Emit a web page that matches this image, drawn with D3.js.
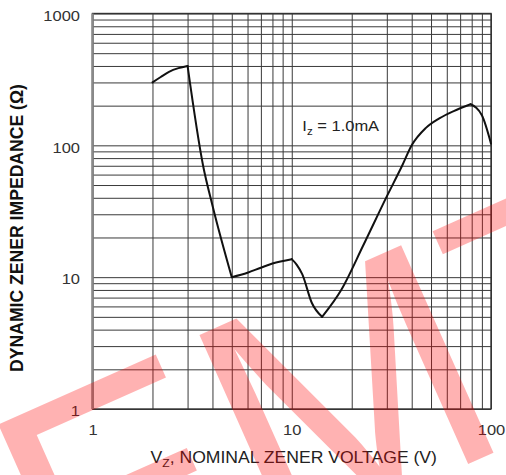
<!DOCTYPE html>
<html>
<head>
<meta charset="utf-8">
<script src="https://cdn.jsdelivr.net/npm/d3@7"></script>
<style>
  body { margin: 0; background: #fff; }
  svg { display: block; }
  text { font-family: "Liberation Sans", Arial, Helvetica, sans-serif; }
</style>
</head>
<body>
<svg id="chart" width="506" height="475"></svg>
<script>
// zener voltage (V) and dynamic impedance (ohm)
var voltage   = [2, 2.2, 2.42, 2.7, 3, 3.59, 4, 5, 6, 7, 8, 10, 10.6, 11.3, 12.6, 14.2, 17.8, 22.8, 30, 35.8, 40, 47, 55, 65, 79, 90, 100];
var impedance = [300, 330, 361, 385, 400, 70, 35, 10, 10.8, 11.8, 12.7, 13.7, 12.4, 10.5, 6.4, 5, 8.1, 17.3, 41, 70, 100, 135, 160, 182, 205, 169, 103];
// indexes where the curve has a sharp corner
var corners = [0, 4, 7, 11, 15, 24, 26];

var xLabels = [1, 10, 100];
var yLabels = [1, 10, 100, 1000];
var gridX = [1, 2, 3, 4, 5, 6, 7, 8, 9, 10, 20, 30, 40, 50, 60, 70, 80, 90, 100];
var gridY = [1, 2, 3, 4, 5, 6, 7, 8, 9, 10, 20, 30, 40, 50, 60, 70, 80, 90,
             100, 200, 300, 400, 500, 600, 700, 800, 900, 1000];

var stretch = "scale(1.1,1)";

var svg = d3.select("#chart"),
  margin = { top: 13.5, right: 15, bottom: 66, left: 92.5 },
  width = +svg.attr("width") - margin.left - margin.right,
  height = +svg.attr("height") - margin.top - margin.bottom,
  g = svg.append("g").attr("transform", "translate(" + margin.left + "," + margin.top + ")");

var x = d3.scaleLog().domain([1, 100]).range([0, width]);
var y = d3.scaleLog().domain([1, 1000]).range([height, 0]);

// grid
g.append("g")
  .attr("class", "grid")
  .attr("transform", "translate(0," + height + ")")
  .call(d3.axisBottom(x).tickValues(gridX).tickSize(-height).tickFormat(""))
  .call(function (s) { s.select(".domain").remove(); });

g.append("g")
  .attr("class", "grid")
  .call(d3.axisLeft(y).tickValues(gridY).tickSize(-width).tickFormat(""))
  .call(function (s) { s.select(".domain").remove(); });

g.selectAll(".grid line")
  .attr("stroke", "#3a3a3a")
  .attr("stroke-width", 1);

// frame
g.append("rect")
  .attr("width", width)
  .attr("height", height)
  .attr("fill", "none")
  .attr("stroke", "#333")
  .attr("stroke-width", 1.4);

g.append("line")
  .attr("x1", 0).attr("x2", 0)
  .attr("y1", 0).attr("y2", height)
  .attr("stroke", "#8a8a8a")
  .attr("stroke-width", 2.4);

// tick labels
var xAxis = g.append("g")
  .attr("transform", "translate(0," + height + ")")
  .call(d3.axisBottom(x).tickValues(xLabels).tickSize(0).tickPadding(15).tickFormat(d3.format("d")));
xAxis.select(".domain").remove();
xAxis.selectAll("text")
  .attr("font-size", 15)
  .attr("fill", "#333")
  .attr("transform", stretch)
  .style("font-family", "'Liberation Sans', Arial, sans-serif");

var yAxis = g.append("g")
  .call(d3.axisLeft(y).tickValues(yLabels).tickSize(0).tickPadding(11.4).tickFormat(d3.format("d")));
yAxis.select(".domain").remove();
yAxis.selectAll("text")
  .attr("font-size", 15)
  .attr("fill", "#333")
  .attr("dy", "0.45em")
  .attr("transform", stretch)
  .style("font-family", "'Liberation Sans', Arial, sans-serif");

// curve, smooth between corners
var line = d3.line()
  .curve(d3.curveMonotoneX)
  .x(function (i) { return x(voltage[i]); })
  .y(function (i) { return y(impedance[i]); });

var pieces = d3.pairs(corners).map(function (p) { return d3.range(p[0], p[1] + 1); });

g.append("g")
  .selectAll("path")
  .data(pieces)
  .join("path")
  .attr("d", line)
  .attr("fill", "none")
  .attr("stroke", "#111")
  .attr("stroke-width", 2)
  .attr("stroke-linecap", "round")
  .attr("stroke-linejoin", "round");

// annotation
var note = g.append("g")
  .attr("transform", "translate(" + x(11.3) + "," + y(128) + ") " + stretch)
  .append("text")
  .attr("font-size", 15)
  .attr("fill", "#222");
note.append("tspan").text("I");
note.append("tspan").attr("font-size", 10.5).attr("dy", 4).text("z");
note.append("tspan").attr("dy", -4).text(" = 1.0mA");

// axis titles
var xt = svg.append("g")
  .attr("transform", "translate(" + (margin.left + x(10) + 2) + ",463) " + stretch)
  .append("text")
  .attr("text-anchor", "middle")
  .attr("font-size", 16)
  .attr("fill", "#222");
xt.append("tspan").text("V");
xt.append("tspan").attr("font-size", 11).attr("dy", 4).text("Z");
xt.append("tspan").attr("dy", -4).text(", NOMINAL ZENER VOLTAGE (V)");

svg.append("text")
  .attr("transform", "translate(23,228) rotate(-90)")
  .attr("text-anchor", "middle")
  .attr("font-size", 17.6)
  .attr("font-weight", "bold")
  .attr("fill", "#111")
  .text("DYNAMIC ZENER IMPEDANCE (\u03A9)");

// watermark
svg.append("text")
  .attr("transform", "translate(66,643) rotate(-24)")
  .attr("font-size", 330)
  .attr("fill", "#ff0000")
  .attr("fill-opacity", 0.3)
  .text("EMT");
</script>
</body>
</html>
